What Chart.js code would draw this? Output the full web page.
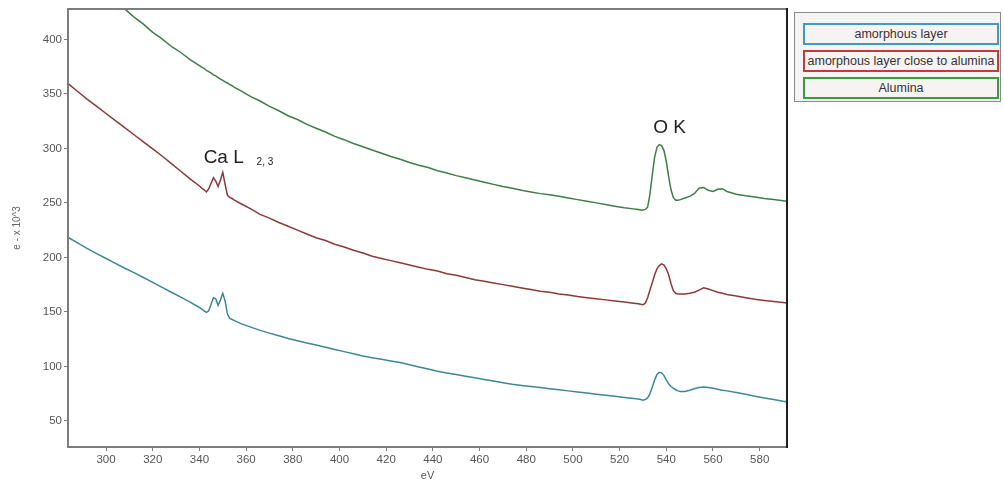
<!DOCTYPE html>
<html lang="en">
<head>
    <meta charset="UTF-8">
    <title>EELS spectra - Ca L2,3 and O K edges</title>
    <script src="https://cdn.jsdelivr.net/npm/chart.js"></script>
    <style>
        body {
            margin: 0;
            background: #fff;
            font-family: 'Liberation Sans', Arial, sans-serif;
        }
        .wrap {
            position: relative;
            width: 1004px;
            height: 490px;
        }
        .legend {
            position: absolute;
            left: 794px;
            top: 12px;
            width: 207px;
            height: 90px;
            border: 1px solid #8a8a8a;
            background: #f5f3f3;
            box-sizing: border-box;
        }
        .legend div {
            position: absolute;
            left: 8px;
            width: 196px;
            height: 22px;
            box-sizing: border-box;
            border: 2px solid;
            text-align: center;
            font-size: 12.5px;
            line-height: 18px;
            color: #333;
            background: #f7f3f3;
            white-space: nowrap;
        }
    </style>
</head>
<body>
<div class="wrap">
    <canvas id="spectre" width="1004" height="490"></canvas>
    <div class="legend">
        <div style="top:10px; border-color:#3c9cc6;">amorphous layer</div>
        <div style="top:37px; border-color:#c23a3a;">amorphous layer close to alumina</div>
        <div style="top:64px; border-color:#3b9a3e;">Alumina</div>
    </div>
</div>

<script>
// energy loss axis (eV), finer steps around the Ca L2,3 and O K edges
const eV = [
    284, 288, 292, 296, 300, 304, 308, 312, 316, 320, 324, 328, 332, 336, 340,
    341, 342, 343, 344, 345, 346, 347, 348, 349, 350, 351, 352, 353, 354, 355,
    358, 362, 366, 370, 374, 378, 382, 386, 390, 394, 398, 402, 406, 410, 414, 418, 422, 426,
    430, 434, 438, 442, 446, 450, 454, 458, 462, 466, 470, 474, 478, 482, 486, 490, 494, 498,
    502, 506, 510, 514, 518, 522, 526,
    528, 529, 530, 531, 532, 533, 534, 535, 536, 537, 538, 539, 540, 541, 542, 543, 544, 545, 546,
    548, 550, 552, 554, 556, 558, 560, 562, 564, 566,
    570, 574, 578, 582, 586, 590, 592
];

// counts (e- x 10^3)
const alumina = [
    477, 468.5, 460.5, 451, 443.5, 435, 428, 420.5, 414, 406.5, 400.5, 393.5, 388, 381.5, 376,
    374.5, 373.5, 371.5, 370.5, 369, 367.5, 366.5, 365, 363.5, 362.5, 361, 360, 358.5, 357.5, 356,
    352.5, 347.5, 343.5, 338.5, 334.5, 330, 326.5, 322, 318.5, 315, 311, 308, 304.5, 301.5, 298.5, 295.5, 292.5, 290,
    287, 284.5, 282.5, 279.5, 277.5, 275, 273, 271, 269, 267, 265, 263.5, 261.5, 260, 258.5, 257.5, 256, 254.5,
    253, 251.5, 250, 248.5, 247, 245.5, 244.5,
    244, 243.5, 243.5, 244, 246, 258, 276, 292, 301, 303.5, 302.5, 298, 288, 274, 262, 255, 252.5, 252.5, 253,
    254.5, 256, 258.5, 263.5, 264, 261.5, 260.5, 262.5, 263, 260.5,
    258, 256.5, 255.5, 254, 253, 252, 251.5
];

const closeToAlumina = [
    359, 352, 345, 338.5, 332, 325.5, 319, 312.5, 306, 299.5, 293, 286, 279, 272, 265.5,
    263.5, 262, 260, 263, 268, 273, 270, 265, 271, 278, 267, 257, 255, 254, 252.5,
    249, 244.5, 239.5, 236, 232, 228.5, 225, 221.5, 218, 215.5, 212, 209.5, 206.5, 204, 201, 199, 197, 195,
    193, 191, 189, 187.5, 185, 183.5, 181.5, 179.5, 178, 176.5, 175, 173.5, 172, 170.5, 169, 168, 166.5, 165.5,
    164, 163, 162, 161, 160, 159, 158,
    157.5, 157, 156.5, 158, 163, 170, 177, 184, 189.5, 192.5, 194, 193, 189.5, 184, 176, 169.5, 167, 166.5, 166.5,
    166.5, 167, 168, 170, 172, 171, 169.5, 168, 167, 166,
    164.5, 163, 161.5, 160.5, 159.5, 158.5, 158
];

const amorphous = [
    218, 213, 208, 203.5, 199, 194.5, 190, 186, 181.5, 177, 172.5, 168, 163.5, 159, 154,
    152.5, 151, 149.5, 151, 157, 163, 162, 156, 161, 167, 160, 148, 144, 143, 142,
    139, 136, 133, 130.5, 128, 125.5, 123.5, 121.5, 119.5, 117.5, 115.5, 113.5, 111.5, 109.5, 108, 106.5, 105, 103.5,
    101.5, 99.5, 97.5, 95.5, 94, 92.5, 91, 89.5, 88, 86.5, 85, 83.5, 82.5, 81.5, 80.5, 79.5, 78.5, 77.5,
    76.5, 75.5, 74.5, 73.5, 72.5, 71.5, 70.5,
    70, 69.5, 69, 69.5, 71, 75, 81, 87.5, 92.5, 94.5, 94, 91.5, 87.5, 84, 81.5, 80, 78.5, 77.5, 77,
    77, 78, 79.5, 80.5, 81, 80.5, 80, 79, 78, 77.5,
    76, 74.5, 72.5, 71, 69.5, 68, 67.5
];

const xTicks = [300, 320, 340, 360, 380, 400, 420, 440, 460, 480, 500, 520, 540, 560, 580];
const yTicks = [50, 100, 150, 200, 250, 300, 350, 400];

const series = [
    { label: 'amorphous layer', values: amorphous, color: '#3f8796' },
    { label: 'amorphous layer close to alumina', values: closeToAlumina, color: '#8a3a3a' },
    { label: 'Alumina', values: alumina, color: '#3e7e46' }
];

// edge labels, placed in data coordinates (eV, counts)
const edgeLabels = [
    { text: 'Ca L', x: 341.8, y: 287, size: 19 },
    { text: '2, 3', x: 364.5, y: 285, size: 10 },
    { text: 'O K', x: 534.4, y: 314.5, size: 19 }
];

const frameAndLabels = {
    id: 'frameAndLabels',
    afterDraw(chart) {
        const { ctx, chartArea: a, scales: { x, y } } = chart;
        ctx.save();
        ctx.lineWidth = 2;
        ctx.strokeStyle = '#7d7d7d';
        ctx.beginPath();
        ctx.moveTo(a.left, a.top);
        ctx.lineTo(a.right, a.top);
        ctx.stroke();
        ctx.strokeStyle = '#1e1e1e';
        ctx.beginPath();
        ctx.moveTo(a.right, a.top - 1);
        ctx.lineTo(a.right, a.bottom + 1);
        ctx.stroke();

        ctx.fillStyle = '#222';
        ctx.textAlign = 'left';
        ctx.textBaseline = 'alphabetic';
        edgeLabels.forEach(l => {
            ctx.font = l.size + 'px "Liberation Sans", Arial, sans-serif';
            ctx.fillText(l.text, x.getPixelForValue(l.x), y.getPixelForValue(l.y));
        });
        ctx.restore();
    }
};

const tickFont = { family: "'Liberation Sans', Arial, sans-serif", size: 11.5 };

new Chart(document.getElementById('spectre'), {
    type: 'line',
    data: {
        datasets: series.map(s => ({
            label: s.label,
            data: eV.map((e, i) => ({ x: e, y: s.values[i] })),
            borderColor: s.color,
            borderWidth: 1.5,
            pointRadius: 0,
            tension: 0,
            fill: false
        }))
    },
    options: {
        responsive: false,
        animation: false,
        layout: { padding: { left: 0, top: 6, right: 217, bottom: 0 } },
        plugins: {
            legend: { display: false },
            tooltip: { enabled: false }
        },
        scales: {
            x: {
                type: 'linear',
                min: 283.7,
                max: 591.7,
                afterBuildTicks: scale => { scale.ticks = xTicks.map(v => ({ value: v })); },
                afterFit: scale => { scale.height = 43; },
                grid: { drawOnChartArea: false, drawTicks: true, tickLength: 4, color: '#7d7d7d' },
                border: { color: '#7d7d7d', width: 2 },
                ticks: { color: '#555', font: tickFont, padding: 2, maxRotation: 0 },
                title: { display: true, text: 'eV', color: '#555', font: { family: tickFont.family, size: 11 }, padding: 7 }
            },
            y: {
                type: 'linear',
                min: 26,
                max: 428,
                afterBuildTicks: scale => { scale.ticks = yTicks.map(v => ({ value: v })); },
                afterFit: scale => { scale.width = 68; },
                grid: { drawOnChartArea: false, drawTicks: true, tickLength: 4, color: '#7d7d7d' },
                border: { color: '#7d7d7d', width: 2 },
                ticks: { color: '#555', font: tickFont, padding: 2 },
                title: { display: true, text: 'e - x 10^3', color: '#666', font: { family: tickFont.family, size: 10 }, padding: 11 }
            }
        }
    },
    plugins: [frameAndLabels]
});
</script>
</body>
</html>
